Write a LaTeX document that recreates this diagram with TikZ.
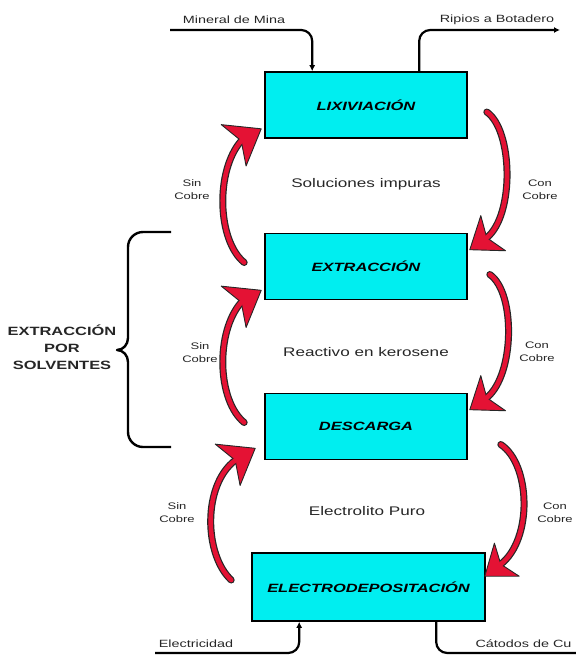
\documentclass[tikz,border=0pt]{standalone}
\usepackage{fontspec}
\setmainfont{Liberation Sans}[FakeStretch=1.37]
\usetikzlibrary{arrows.meta,calc}
\definecolor{boxcyan}{RGB}{0,238,240}
\definecolor{arrowred}{RGB}{228,18,52}
\newcommand\redarrow[5]{%
  \draw[line width=7pt, black!85, line cap=round] #1 .. controls #2 and #3 .. #4;
  \fill[arrowred, draw=black!85, line width=0.9pt, line join=round] #5 -- ($#4!1.1!110:#5$) -- #4 -- ($#4!1.1!-110:#5$) -- cycle;
  \draw[line width=4.6pt, arrowred, line cap=round] #1 .. controls #2 and #3 .. #4;
}
\begin{document}
\begin{tikzpicture}[x=1pt,y=-1pt,
  box/.style={draw=black, line width=1.6pt, fill=boxcyan, minimum width=202pt, minimum height=66pt, inner sep=0pt, font=\fontsize{12}{14}\selectfont\bfseries\itshape},
  lbl/.style={font=\fontsize{9.5}{13}\selectfont, align=center, text=black!85},
  mid/.style={font=\fontsize{12.5}{14}\selectfont, text=black!85},
  small/.style={font=\fontsize{10.5}{12}\selectfont, text=black!85},
  solv/.style={font=\fontsize{12}{17}\selectfont\bfseries, align=center, text=black!85},
  flow/.style={line width=2.2pt, rounded corners=11pt},
  tip/.style={-{Latex[length=6pt,width=6pt]}}]
\useasboundingbox (0,0) rectangle (576,657);

% boxes
\node[box] (lix) at (366,105) {LIXIVIACIÓN};
\node[box] (ext) at (366,266.5) {EXTRACCIÓN};
\node[box] (des) at (366,426.5) {DESCARGA};
\node[box, minimum width=233pt, minimum height=68pt] (ele) at (368.5,587) {ELECTRODEPOSITACIÓN};

% middle texts
\node[mid] (t1) at (366,184) {Soluciones impuras};
\node[mid] (t2) at (366,352) {Reactivo en kerosene};
\node[mid] (t3) at (367,511) {Electrolito Puro};

% side labels
\node[lbl] (s1) at (192,190) {Sin\\Cobre};
\node[lbl] (c1) at (540,190) {Con\\Cobre};
\node[lbl] (s2) at (200,353) {Sin\\Cobre};
\node[lbl] (c2) at (537,352) {Con\\Cobre};
\node[lbl] (s3) at (177,513) {Sin\\Cobre};
\node[lbl] (c3) at (555,513) {Con\\Cobre};

% inputs / outputs
\node[small] (min) at (234,20) {Mineral de Mina};
\node[small] (rip) at (497,20) {Ripios a Botadero};
\node[small] (elc) at (196,644) {Electricidad};
\node[small, anchor=east] (cat) at (575,644) {Cátodos de Cu};

\coordinate (minA) at (170,30);
\coordinate (ripE) at (560,30);
\coordinate (elcA) at (155,653);
\coordinate (catE) at (576,653);

\draw[flow, tip] (minA) -| ($(lix.north west)+(48,0)$);
\draw[flow, tip] ($(lix.north west)+(155,0)$) |- (ripE);
\draw[flow, tip] (elcA) -| ($(ele.south west)+(48,0)$);
\draw[flow] ($(ele.south west)+(185,0)$) |- (catE);

% red curved arrows
\coordinate (l1t) at ($(ext.west)+(-20,-4)$);
\coordinate (l1n) at ($(lix.south west)+(-23,2)$);
\coordinate (l1h) at ($(lix.south west)+(-3,-10)$);
\coordinate (l2t) at ($(des.west)+(-20,-4)$);
\coordinate (l2n) at ($(ext.south west)+(-23,2)$);
\coordinate (l2h) at ($(ext.south west)+(-3,-10)$);
\coordinate (l3t) at ($(ele.west)+(-20,-7)$);
\coordinate (l3n) at ($(des.south west)+(-29,0)$);
\coordinate (l3h) at ($(des.south west)+(-9,-12)$);
\coordinate (r1t) at ($(lix.east)+(19,7)$);
\coordinate (r1n) at ($(ext.north east)+(19,5)$);
\coordinate (r1h) at ($(ext.north east)+(2,17)$);
\coordinate (r2t) at ($(ext.east)+(22,8)$);
\coordinate (r2n) at ($(des.north east)+(19,5)$);
\coordinate (r2h) at ($(des.north east)+(2,17)$);
\coordinate (r3t) at ($(des.east)+(33,18)$);
\coordinate (r3n) at ($(ele.north east)+(15,12)$);
\coordinate (r3h) at ($(ele.north east)+(-1,24)$);

\redarrow{(l1t)}{+(-27,-22)}{+(-26,30)}{(l1n)}{(l1h)}
\redarrow{(l2t)}{+(-27,-22)}{+(-26,30)}{(l2n)}{(l2h)}
\redarrow{(l3t)}{+(-27,-25)}{+(-33,25)}{(l3n)}{(l3h)}
\redarrow{(r1t)}{+(26,18)}{+(28,-23)}{(r1n)}{(r1h)}
\redarrow{(r2t)}{+(26,18)}{+(28,-23)}{(r2n)}{(r2h)}
\redarrow{(r3t)}{+(30,20)}{+(32,-25)}{(r3n)}{(r3h)}

% brace
\draw[line width=2.4pt, line join=round] (171,232) -- (143,232) to[out=180,in=90] (128,247)
  -- (128,338) to[out=-90,in=0] (117,350) to[out=0,in=90] (128,362)
  -- (128,432) to[out=-90,in=180] (143,447) -- (171,447);
\node[solv] (sv) at (62,347) {EXTRACCIÓN\\POR\\SOLVENTES};
\end{tikzpicture}
\end{document}
